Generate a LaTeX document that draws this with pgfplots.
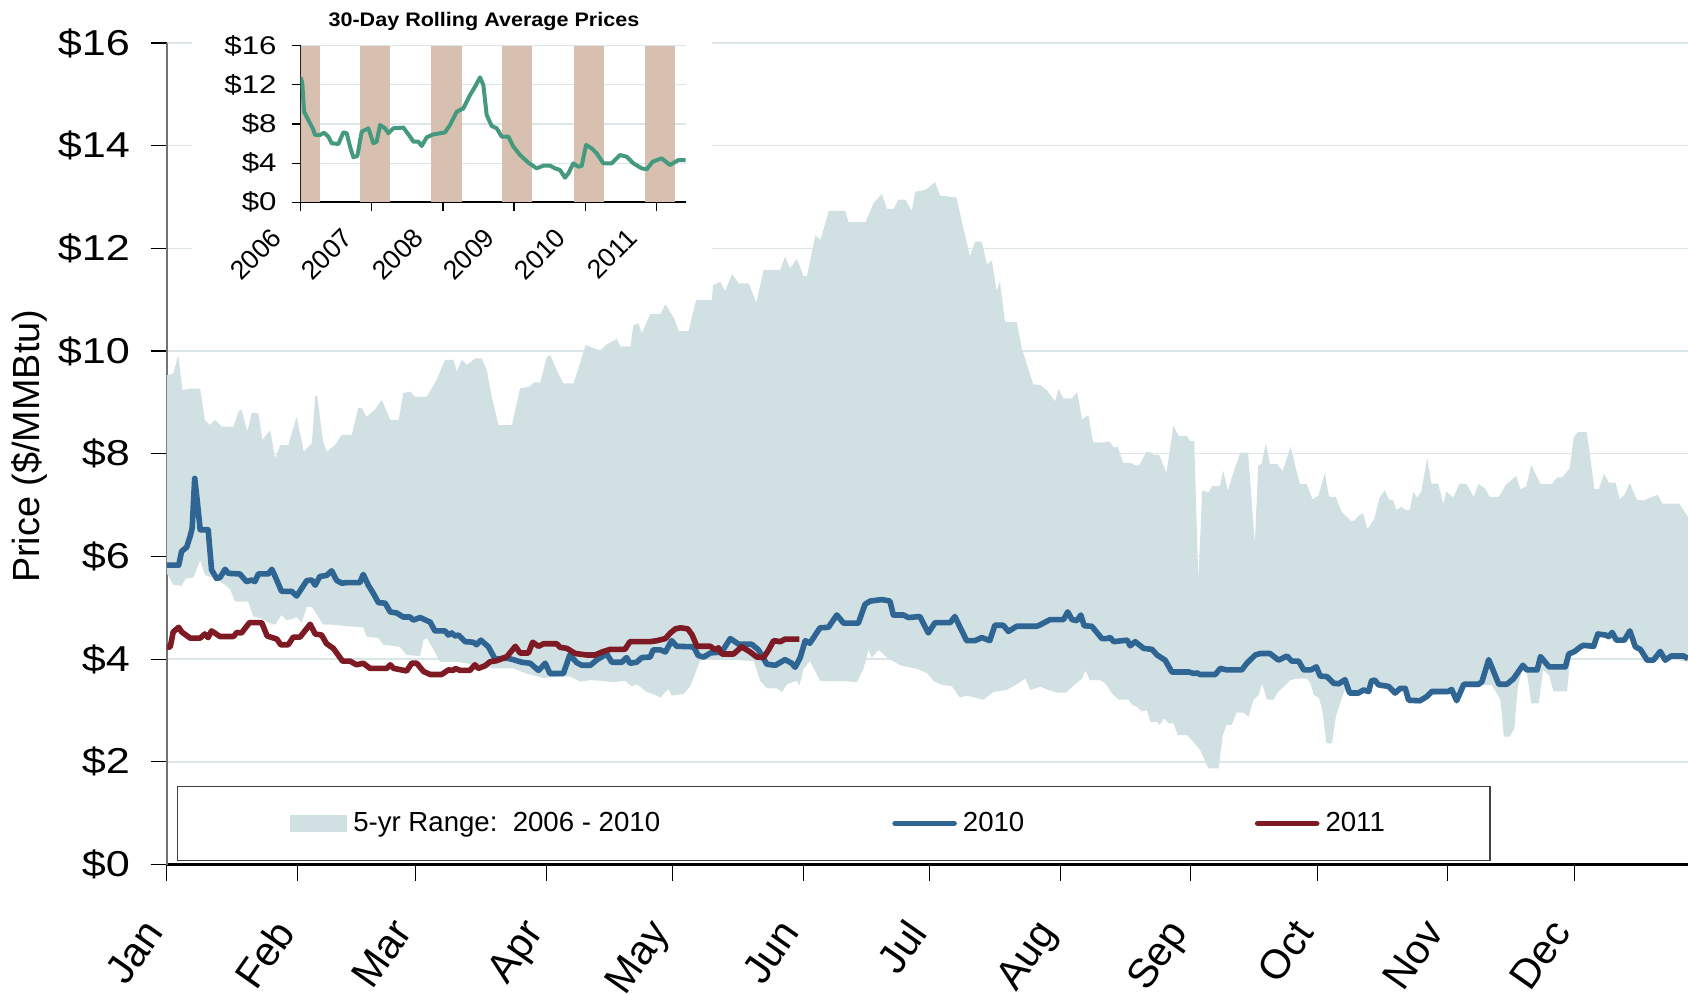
\documentclass[border=0pt]{standalone}
\usepackage{fontspec}
\setmainfont{Liberation Sans}
\newfontfamily\tickfont[FakeStretch=1.2]{Liberation Sans}
\newfontfamily\insetfont[FakeStretch=1.22]{Liberation Sans}
\newfontfamily\titlefont[FakeStretch=1.1]{Liberation Sans}
\usepackage{pgfplots}
\pgfplotsset{compat=1.18}
\usepgfplotslibrary{fillbetween}
\definecolor{rangecol}{HTML}{D1E0E3}
\definecolor{cten}{HTML}{2E6593}
\definecolor{celeven}{HTML}{7E1A23}
\definecolor{insetcol}{HTML}{44997E}
\definecolor{bandcol}{HTML}{D8C0B0}
\definecolor{gridcol}{HTML}{DCE6E8}
\begin{document}
\begin{tikzpicture}
\begin{axis}[
  scale only axis, width=760.55pt, height=410.75pt,
  at={(0pt,0pt)}, anchor=south west,
  xmin=0, xmax=361, ymin=0, ymax=16,
  axis x line=bottom, axis y line=left,
  x axis line style={-, black, line width=1.2pt},
  y axis line style={-, black!55, line width=1pt},
  xtick={0,31,59,90,120,151,181,212,243,273,304,334},
  xticklabels={Jan,Feb,Mar,Apr,May,Jun,Jul,Aug,Sep,Oct,Nov,Dec},
  ytick={0,2,4,6,8,10,12,14,16},
  yticklabels={\$0,\$2,\$4,\$6,\$8,\$10,\$12,\$14,\$16},
  tick align=outside, major tick length=8pt,
  tick style={black, line width=0.6pt},
  ymajorgrids, grid style={gridcol, line width=0.7pt},
  yticklabel style={font=\tickfont\fontsize{18}{20}\selectfont, anchor=east, inner sep=0pt, xshift=-10.3pt},
  xticklabel style={font=\fontsize{20.5}{22}\selectfont, xshift=-12.7pt, yshift=-17.75pt, rotate=55, anchor=north east, inner sep=0pt},
  ylabel={Price (\$/MMBtu)},
  ylabel style={font=\fontsize{18.9}{21}\selectfont, at={([xshift=-68.95pt]axis description cs:0,0.509)}, anchor=center},
  legend columns=3,
  legend style={at={(axis description cs:0.4385,0.05)}, anchor=center, draw=black!75, line width=0.7pt, inner xsep=56.3pt, inner ysep=13pt, column sep=0pt, nodes={inner sep=0pt}, font=\fontsize{13.8}{15}\selectfont},
]
\addplot[name path=up, draw=none, forget plot] coordinates {
(0,9.53) (1.5,9.56) (2.7,9.92) (3.7,9.24) (5.5,9.27) (7.9,9.27) (9.0,8.66) (10.2,8.56) (11.4,8.66) (13,8.53) (15.8,8.53) (17,8.82) (17.7,8.86) (19.1,8.43) (20.1,8.79) (21.7,8.79) (22.7,8.27) (24.5,8.46) (25.7,7.91) (26.9,8.17) (28.8,8.17) (30.8,8.72) (32.5,8.04) (34.4,8.2) (35.2,9.14) (35.7,9.11) (37,8.27) (37.9,8.04) (39.9,8.17) (41.5,8.37) (43.9,8.37) (45.4,8.89) (46.2,8.89) (47.4,8.72) (49.4,8.86) (51,9.05) (53,8.66) (55,8.66) (56.1,9.18) (57.7,9.21) (58.9,9.11) (61.7,9.11) (64,9.44) (66,9.83) (68,9.83) (68.8,9.6) (70,9.83) (71.2,9.73) (73.2,9.86) (74.7,9.86) (75.9,9.63) (77.1,9.11) (78.7,8.56) (81.9,8.56) (83.8,9.27) (86.2,9.31) (87,9.39) (88.6,9.39) (90.2,9.89) (91,9.92) (92.5,9.63) (94.1,9.37) (96.5,9.37) (97.8,9.70) (99.4,10.12)
(102.8,10.01) (104.4,10.13) (106.8,10.24) (107.6,10.09) (110,10.09) (110.7,10.50) (111.9,10.54) (112.7,10.35) (114.7,10.72) (117.1,10.72) (118.3,10.91) (120.3,10.65) (121.5,10.39) (123.8,10.39) (125.8,11.06) (129.4,11.06) (129.6,11.28) (131.3,11.35) (132.5,11.17) (134.1,11.50) (135.7,11.32) (138.1,11.32) (139.9,10.94) (141.6,11.58) (145.6,11.58) (146.7,11.84) (147.9,11.61) (149.5,11.80) (151.1,11.46) (151.9,11.46) (153.9,12.25) (155.1,12.17) (157.1,12.73) (161,12.73) (161.8,12.51) (165.8,12.51) (167.7,12.88) (169.7,13.06) (170.9,12.77) (172.5,12.77) (173.6,12.95) (175.2,12.95) (176.8,12.73) (177.6,13.10) (180,13.14) (182.3,13.29) (183.5,13.03) (187.4,12.99) (188.7,12.51) (190.6,11.84) (191.8,12.13) (193.4,12.13) (194.6,11.69) (195.8,11.76) (196.9,11.17) (197.7,11.35) (198.9,10.57) (201.7,10.57) (202.9,10.05) (205.6,9.35)
(207.3,9.34) (208.8,9.24) (210.8,9.02) (211.6,9.26) (212.8,9.08) (214.8,9.08) (216,9.20) (217.2,8.67) (218.7,8.75) (219.8,8.22) (222.3,8.22) (223.7,8.24) (224.7,8.12) (225.6,8.14) (227,7.82) (228.8,7.82) (230,7.77) (230.8,7.78) (232.4,8.03) (233.4,8.03) (234.2,7.98) (235.5,7.98) (237.2,7.63) (238.9,8.55) (240.1,8.35) (242.1,8.35) (242.8,8.25) (243.8,8.25) (244.8,5.54) (245.7,7.28) (247.2,7.25) (248.1,7.37) (249.9,7.37) (250.7,7.67) (251.8,7.28) (253.1,7.63) (254.7,8.02) (256.6,8.02) (258.2,6.25) (259,7.76) (259.8,7.81) (260.8,8.20) (261.8,7.80) (263.5,7.80) (264.8,7.66) (266.7,8.14) (268.2,7.62) (268.9,7.41) (270.5,7.41) (271.9,7.11) (273.3,7.19) (274.8,7.62) (275.8,7.16) (277.4,7.16) (278.8,6.87) (280.9,6.70) (281.9,6.70) (282.7,6.79) (283.9,6.84) (284.9,6.53) (286.5,6.72) (287.8,7.14) (289,7.29) (290.1,7.10) (291,7.10) (291.8,6.90) (293,6.97) (294,6.90) (295,6.91) (295.8,7.26) (296.7,7.15) (297.7,7.26) (299.1,7.91) (300.1,7.42) (301.7,7.42) (302.9,7.02) (303.7,7.26) (305.3,7.15) (306.8,7.42)
(308.5,7.41) (310.1,7.16) (311.3,7.41) (312.9,7.32) (313.9,7.16) (316.1,7.16) (317.9,7.41) (318.8,7.46) (320.2,7.57) (321.2,7.31) (322.6,7.36) (323.8,7.78) (326,7.41) (328.7,7.41) (329.9,7.54) (331.1,7.54) (332.9,7.71) (333.9,8.32) (334.8,8.42) (337,8.42) (338.8,7.31) (339.8,7.31) (341.1,7.61) (342.2,7.44) (343.8,7.44) (344.8,7.11) (345.9,7.2) (347.2,7.43) (348.9,7.10) (350.5,7.09) (352.1,7.15) (353.8,7.2) (354.9,7.03) (358.9,7.03) (361,6.77)
};
\addplot[name path=lo, draw=none, forget plot] coordinates {
(0,5.67) (1.5,5.45) (3.5,5.43) (4.5,5.57) (6.3,5.59) (7.9,5.93) (9.0,5.64) (11.4,5.57) (13.8,5.45) (15.0,5.36) (16.2,5.12) (19.3,5.12) (20.5,4.83) (22.1,4.80) (24.5,4.70) (25.7,4.67) (27.2,4.86) (28.4,4.76) (29.6,4.78) (30.8,4.82) (32.0,4.71) (33.2,5.02) (34.4,5.02) (35.9,4.83) (37.1,4.67) (39.5,4.67) (41.9,4.65) (44.6,4.63) (46.6,4.62) (47.4,4.44) (50.2,4.41) (51.4,4.28) (55.3,4.24) (56.9,4.08) (60.1,4.06) (60.9,4.37) (61.7,4.41) (62.9,4.24) (64.8,3.95) (69.6,3.94) (77.5,3.82) (82.2,3.82) (85.4,3.72) (89.4,3.63) (93.3,3.66) (95.7,3.66) (98.1,3.56) (100.4,3.59)
(102.8,3.58) (106,3.55) (108.7,3.58) (110.3,3.47) (111.5,3.51) (113.9,3.36) (115.4,3.32) (117.1,3.25) (119,3.42) (119.8,3.29) (122.6,3.32) (124.2,3.47) (125.8,3.81) (126.6,3.99) (130.5,3.99) (134.5,3.99) (139.3,3.96) (140.8,3.58) (142.4,3.43) (144.8,3.43) (146,3.36) (147.1,3.51) (149.5,3.58) (150.1,3.49) (151.1,3.81) (152.6,3.96) (155,3.58) (158.2,3.57) (161.4,3.57) (163.7,3.55) (165.3,3.81) (166.5,4.18) (167.3,4.03) (168.9,4.18) (170.9,4.03) (174,3.88) (178,3.81) (180.4,3.73) (181.9,3.58) (183.5,3.51) (186.3,3.47) (188.2,3.25) (189.8,3.29) (193.8,3.21) (196.2,3.36) (199.3,3.40) (201.7,3.51) (203.7,3.62) (204.9,3.40)
(207.3,3.46) (209.2,3.40) (211.2,3.35) (213.5,3.35) (214.8,3.46) (217.2,3.62) (218,3.78) (219,3.59) (221.5,3.59) (222.7,3.53) (224.3,3.33) (225.9,3.21) (228.2,3.21) (229,3.11) (230.2,3.07) (231.4,2.98) (232.6,3.01) (233.4,2.78) (235,2.78) (235.6,2.72) (236.7,2.85) (237.7,2.75) (238.9,2.75) (239.9,2.52) (242.1,2.52) (243.6,2.39) (245.2,2.23) (247.2,1.87) (249.6,1.87) (250.6,2.52) (251.5,2.72) (252.7,2.72) (253.9,2.96) (255.5,2.96) (256.7,2.88) (257.9,3.21) (259.1,3.30) (259.9,3.52) (261.1,3.21) (262.7,3.21) (263.6,3.35) (266.6,3.59) (268.2,3.62) (270.6,3.62) (271.4,3.53) (272.2,3.30) (273.4,3.25) (274.2,3.01) (275.2,2.36) (276.5,2.36) (277.5,2.91) (278.8,3.23) (279.6,3.40)
(280.7,3.28) (282.8,3.28) (284,3.34) (285.2,3.31) (285.9,3.52) (286.7,3.53) (287.5,3.44) (289.9,3.41) (291.5,3.28) (292.7,3.37) (293.9,3.37) (294.7,3.14) (297.4,3.13) (299,3.21) (300.2,3.31) (304.1,3.31) (304.9,3.35) (306.1,3.13) (307.8,3.45) (311.3,3.45) (312.1,3.50)
(314.5,3.49) (316.5,3.20) (317.3,2.49) (318.7,2.49) (319.8,2.65) (320.6,3.46) (321.6,3.79) (322.8,3.72) (323.8,3.14) (325.6,3.14) (326.6,3.79) (328,3.69) (329.1,3.37) (332.3,3.37) (333.1,4.05)
(334.1,4.09) (335.5,4.18) (336.2,4.21) (338.6,4.19) (339.6,4.43) (341.4,4.41) (342.2,4.38) (343,4.46) (344,4.31) (345.9,4.31) (347.2,4.49) (348.5,4.18) (349.7,4.13) (351.3,3.92) (352.8,3.92) (354.4,4.09) (355.6,3.92) (357,4.0) (361,3.95)
};
\addplot[fill=rangecol, draw=none, legend image code/.code={\fill[rangecol] (0pt,-4.4pt) rectangle (28.5pt,4.4pt);}] fill between[of=up and lo];
\addlegendentry{\makebox[272.5pt][l]{\hspace{3pt}5-yr Range:\ \ 2006 - 2010}}
\addplot[cten, line width=2.8pt, line join=round, legend image code/.code={\draw[cten, line width=2.8pt, line cap=round] (0pt,0pt) -- (29.5pt,0pt);}] coordinates {
(0,5.83) (2.8,5.83) (3.5,6.10) (4.7,6.18) (5.5,6.39) (6.0,6.55) (6.6,7.52) (7.1,7.16) (7.9,6.52) (9.8,6.52) (10.6,5.74) (11.8,5.57) (12.6,5.59) (13.8,5.75) (14.6,5.67) (17.3,5.66) (18.9,5.51) (20.1,5.54) (20.9,5.51) (21.7,5.66) (24.1,5.66) (24.9,5.75) (25.7,5.61) (27.2,5.32) (29.6,5.32) (30.8,5.23) (32,5.38) (33.2,5.53) (34.4,5.54) (35.2,5.44) (36.3,5.61) (37.9,5.63) (39.1,5.72) (40.3,5.53) (41.5,5.48) (42.7,5.49) (45.8,5.49) (46.6,5.65) (47.8,5.44) (49,5.28) (50.2,5.10) (51.8,5.09) (53,4.92) (54.5,4.90) (56.1,4.82) (57.7,4.82) (58.5,4.76) (60.1,4.81) (62.5,4.72) (63.6,4.55) (66,4.55) (66.8,4.47) (67.6,4.51) (68.4,4.45) (69.2,4.47) (70.8,4.34) (72.7,4.33) (73.5,4.28) (74.5,4.37) (76.3,4.24) (77.9,4.00) (80.7,4.02) (82.2,3.99) (84.2,3.94) (86.2,3.92) (88.2,3.78) (89.8,3.92) (90.9,3.72) (94.1,3.72) (95.6,4.08) (97.3,3.93) (98.5,3.88) (100.5,3.88) (102.1,3.99)
(104.4,4.10) (105.6,3.94) (108,3.94) (109.1,4.03) (109.9,3.92) (111.5,3.94) (112.7,4.03) (114.7,4.04) (115.4,4.18) (117.1,4.18) (118.3,4.14) (119.8,4.36) (121,4.25) (125,4.24) (126.1,4.07) (127.4,4.04) (129,4.12) (131.7,4.14) (133.7,4.40) (135.7,4.29) (138.8,4.29) (140.4,4.18) (142.4,3.90) (144.4,3.88) (146.7,3.99) (148.3,3.92) (149.1,3.84) (150.3,4.03) (151.5,4.36) (152.6,4.31) (155,4.61) (157,4.62) (159,4.86) (160.6,4.70) (164.1,4.70) (165.7,5.07) (166.9,5.13) (169.7,5.16) (171.6,5.13) (172.4,4.86) (174.8,4.86) (176,4.81) (178.7,4.83) (180.7,4.51) (182.3,4.71) (185.9,4.71) (187,4.83) (189.8,4.36) (191.8,4.36) (193.4,4.42) (195.3,4.36) (196.5,4.66) (198.5,4.66) (199.7,4.54) (201.7,4.64) (206.4,4.64)
(207.3,4.67) (209.6,4.77) (212.8,4.77) (213.8,4.92) (214.8,4.77) (216,4.75) (216.9,4.86) (217.7,4.65) (219.5,4.64) (221.9,4.40) (223,4.40) (223.9,4.42) (224.7,4.34) (227.9,4.37) (228.6,4.26) (229.8,4.34) (231.8,4.21) (233.8,4.19) (235,4.08) (236.9,3.98) (238.5,3.75) (242.5,3.75) (243.7,3.72) (244.5,3.73) (245.2,3.70) (248.8,3.70) (250,3.82) (251.5,3.79) (255.1,3.79) (256.3,3.92) (258.3,4.08) (259.5,4.11) (261.8,4.11) (263.8,3.98) (265.8,4.06) (267,3.96) (268.6,3.96) (269.8,3.79) (271.5,3.79) (272.8,3.85) (273.7,3.67) (275.3,3.66) (276.9,3.53) (278.1,3.52) (279.6,3.60) (280.7,3.34) (282.8,3.34) (284,3.40) (285.2,3.37) (285.9,3.58) (286.7,3.59) (287.5,3.50) (289.9,3.47) (291.5,3.34) (292.7,3.43) (293.9,3.43) (294.7,3.20) (297.4,3.19) (299,3.27) (300.2,3.37) (304.1,3.37) (304.9,3.41) (306.1,3.19)
(307.8,3.51) (311.3,3.51) (312.1,3.56) (313.7,3.99) (316.1,3.51) (318,3.51) (319.6,3.62) (321.8,3.88) (322.8,3.79) (325.2,3.79) (326,4.05) (328,3.85) (331.9,3.85) (332.7,4.10) (334.1,4.15) (335.5,4.24) (336.2,4.27) (338.6,4.25) (339.6,4.49) (341.4,4.47) (342.2,4.44) (343,4.52) (344,4.37) (345.9,4.37) (347.2,4.55) (348.5,4.24) (349.7,4.19) (351.3,3.98) (352.8,3.98) (354.4,4.15) (355.6,3.98) (357,4.06) (360,4.06) (361,4.01)
};
\addlegendentry{\makebox[149pt][l]{\hspace{3pt}2010}}
\addplot[celeven, line width=2.8pt, line join=round, legend image code/.code={\draw[celeven, line width=2.8pt, line cap=round] (0pt,0pt) -- (29.5pt,0pt);}] coordinates {
(0,4.23) (0.8,4.24) (1.5,4.53) (2.8,4.62) (3.5,4.53) (5.5,4.41) (7.9,4.41) (9,4.49) (9.8,4.42) (10.6,4.55) (12.6,4.44) (15.8,4.44) (16.6,4.52) (17.7,4.51) (19.6,4.71) (22.5,4.71) (23.8,4.45) (26.1,4.39) (27,4.28) (28.8,4.28) (30,4.43) (31.6,4.43) (34,4.68) (35.2,4.49) (36.7,4.47) (37.9,4.30) (39.5,4.21) (41.7,3.96) (43.5,3.96) (45,3.89) (46.6,3.92) (48.2,3.82) (52.2,3.82) (53,3.89) (53.8,3.82) (56.9,3.77) (58.1,3.92) (59.3,3.92) (60.9,3.76) (62.5,3.70) (65.2,3.70) (66.8,3.79) (68,3.78) (68.4,3.82) (69.6,3.78) (71.9,3.78) (73.1,3.89) (73.9,3.82) (75.5,3.87) (76.7,3.95) (78.3,3.97) (80.7,4.05) (82.7,4.25) (83.8,4.12) (85.8,4.12) (86.8,4.33) (88.2,4.25) (89.4,4.30) (92.5,4.30) (93.3,4.23) (94.9,4.21) (96.9,4.11) (99.7,4.08) (101.6,4.08) (103.3,4.14) (105.2,4.19) (108.7,4.19) (109.9,4.34) (114.7,4.34) (116.3,4.36) (118.3,4.40) (119.5,4.51) (120.7,4.59) (121.9,4.61) (123.6,4.59) (124.6,4.48) (125.8,4.25) (129,4.25) (130.1,4.18) (130.9,4.22) (131.7,4.10) (134.5,4.10) (136.4,4.24) (138.4,4.14) (140,4.04) (141.6,4.03) (142.8,4.18) (144,4.36) (145.6,4.34) (146.7,4.39) (150.1,4.39)
};
\addlegendentry{\makebox[29pt][l]{\hspace{3pt}2011}}
\end{axis}
\fill[white] (12.55pt,282.25pt) rectangle (272.4pt,440pt);
\begin{axis}[
  scale only axis, width=192.5pt, height=78.3pt,
  at={(66.9pt,331.1pt)}, anchor=south west,
  xmin=2006, xmax=2011.415, ymin=0, ymax=16,
  axis x line=bottom, axis y line=left,
  x axis line style={-, black, line width=1pt},
  y axis line style={-, black!85, line width=0.6pt},
  xtick={2006,2007,2008,2009,2010,2011},
  xticklabels={2006,2007,2008,2009,2010,2011},
  ytick={0,4,8,12,16},
  yticklabels={\$0,\$4,\$8,\$12,\$16},
  tick align=outside, major tick length=4.5pt,
  tick style={black, line width=0.6pt},
  ymajorgrids, grid style={gridcol, line width=0.6pt},
  yticklabel style={font=\insetfont\fontsize{12.8}{14}\selectfont, anchor=east, inner sep=0pt, xshift=-7.4pt},
  xticklabel style={font=\fontsize{13.3}{14}\selectfont, xshift=-15.4pt, yshift=-7.4pt, rotate=45, anchor=north east, inner sep=0pt},
  title={30-Day Rolling Average Prices},
  title style={font=\titlefont\bfseries\fontsize{9.8}{11}\selectfont, at={([yshift=6.35pt]axis description cs:0.476,1)}, anchor=center},
]
\addplot[fill=bandcol, draw=none] coordinates {(2006,16) (2006.27,16)} \closedcycle;
\addplot[fill=bandcol, draw=none] coordinates {(2006.83,16) (2007.26,16)} \closedcycle;
\addplot[fill=bandcol, draw=none] coordinates {(2007.83,16) (2008.27,16)} \closedcycle;
\addplot[fill=bandcol, draw=none] coordinates {(2008.83,16) (2009.26,16)} \closedcycle;
\addplot[fill=bandcol, draw=none] coordinates {(2009.84,16) (2010.26,16)} \closedcycle;
\addplot[fill=bandcol, draw=none] coordinates {(2010.84,16) (2011.27,16)} \closedcycle;
\addplot[insetcol, line width=2pt, line join=round] coordinates {
(2006.000,12.77) (2006.023,12.15) (2006.047,9.26) (2006.084,8.75) (2006.131,8.07) (2006.169,7.56) (2006.202,6.88) (2006.272,6.88) (2006.328,7.11) (2006.389,6.71) (2006.436,6.03) (2006.530,5.96) (2006.600,7.15) (2006.647,7.05) (2006.694,5.69) (2006.741,4.60) (2006.797,4.73) (2006.858,7.22) (2006.952,7.56) (2007.022,6.03) (2007.069,6.20) (2007.116,7.90) (2007.186,7.56) (2007.233,7.05) (2007.303,7.56) (2007.444,7.63) (2007.538,6.71) (2007.585,6.20) (2007.655,6.20) (2007.702,5.75) (2007.772,6.64) (2007.866,6.94) (2007.960,7.05) (2008.030,7.15) (2008.100,7.90) (2008.194,9.26) (2008.288,9.60) (2008.382,10.96) (2008.452,11.81) (2008.522,12.77) (2008.569,11.98) (2008.616,8.92) (2008.686,7.80) (2008.757,7.56) (2008.827,6.71) (2008.921,6.71) (2008.991,5.69) (2009.085,4.83) (2009.202,4.05) (2009.319,3.47) (2009.413,3.74) (2009.507,3.74) (2009.577,3.47) (2009.647,3.30) (2009.718,2.52) (2009.765,2.96) (2009.835,3.98) (2009.905,3.64) (2009.952,3.71) (2010.013,5.86) (2010.093,5.51) (2010.163,5.00) (2010.257,3.98) (2010.374,3.98) (2010.491,4.83) (2010.585,4.66) (2010.679,3.98) (2010.796,3.47) (2010.866,3.37) (2010.951,4.15) (2011.077,4.49) (2011.194,3.81) (2011.312,4.32) (2011.415,4.32)
};
\end{axis}
\pgfresetboundingbox
\path[use as bounding box] (-83.45pt,-64.25pt) rectangle (760.55pt,432.25pt);
\end{tikzpicture}
\end{document}
